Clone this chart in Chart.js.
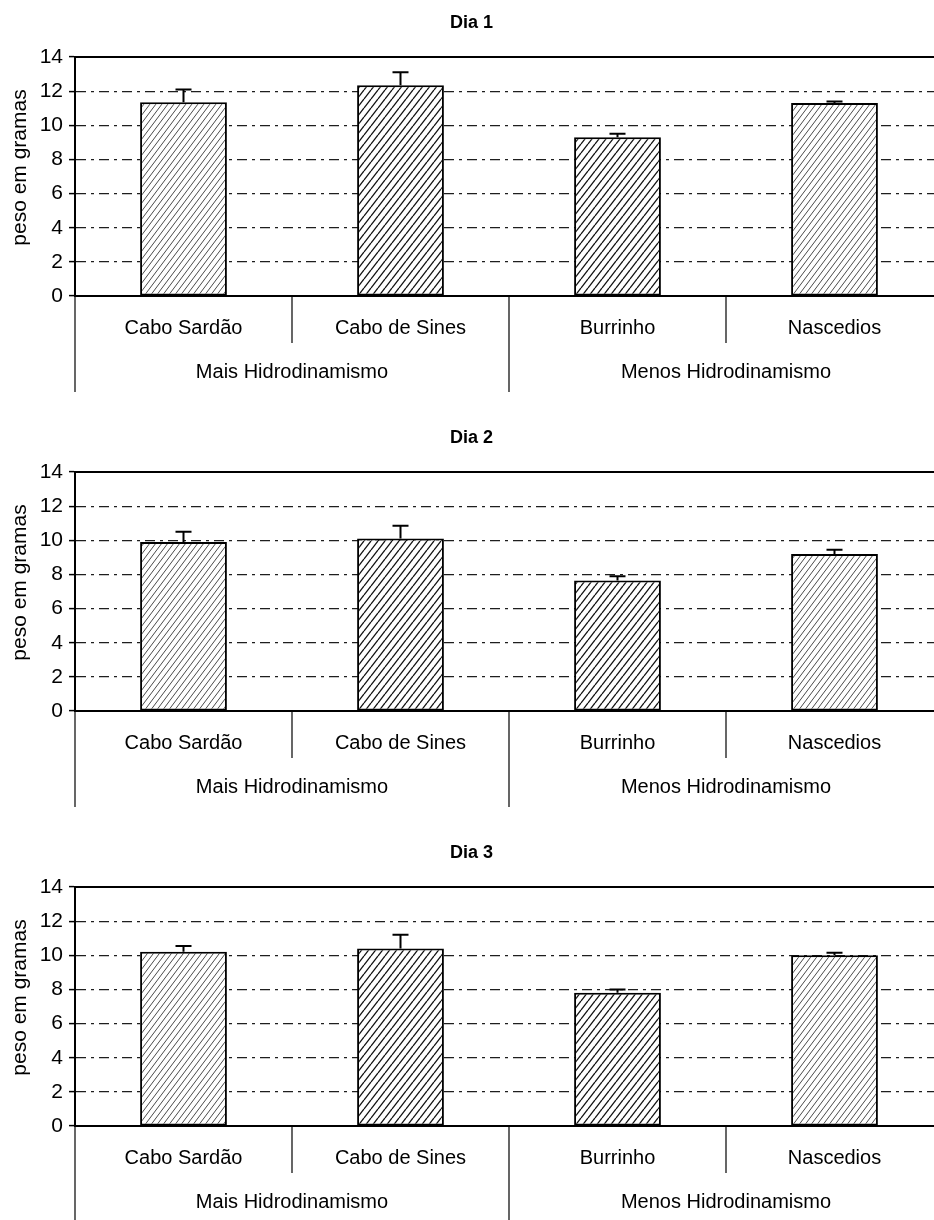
<!DOCTYPE html>
<html>
<head>
<meta charset="utf-8">
<script src="https://cdn.jsdelivr.net/npm/chart.js@4.4.1/dist/chart.umd.min.js"></script>
<style>
  html, body { margin: 0; padding: 0; background: #fff; width: 934px; height: 1220px; overflow: hidden; }
  canvas { position: absolute; left: 0; display: block; }
</style>
</head>
<body>
<canvas id="dia1" width="950" height="415" style="top:0px"></canvas>
<canvas id="dia2" width="950" height="415" style="top:415px"></canvas>
<canvas id="dia3" width="950" height="415" style="top:830px"></canvas>
<script>
// Locais de amostragem e agrupamento por hidrodinamismo
const categories = ['Cabo Sardão', 'Cabo de Sines', 'Burrinho', 'Nascedios'];
const groups = ['Mais Hidrodinamismo', 'Menos Hidrodinamismo'];
const groupSizes = [2, 2];
const dayTitles = ['Dia 1', 'Dia 2', 'Dia 3'];

// Peso médio (g) e erro (barra superior) por dia
const dia1Peso = [11.35, 12.35, 9.3, 11.3];
const dia1Erro = [0.75, 0.75, 0.2, 0.1];
const dia2Peso = [9.9, 10.1, 7.65, 9.2];
const dia2Erro = [0.6, 0.75, 0.25, 0.25];
const dia3Peso = [10.2, 10.4, 7.8, 10.0];
const dia3Erro = [0.35, 0.8, 0.2, 0.15];

const yTickValues = [0, 2, 4, 6, 8, 10, 12, 14];
const yAxisTitle = 'peso em gramas';

const FONT = '"Liberation Sans", Arial, sans-serif';

// Diagonal hatch fill for the bars
function hatch(ctx, w, h, color, lw) {
  const tile = document.createElement('canvas');
  tile.width = w; tile.height = h;
  const g = tile.getContext('2d');
  g.fillStyle = '#fff';
  g.fillRect(0, 0, w, h);
  g.strokeStyle = color;
  g.lineWidth = lw;
  for (const dx of [-w, 0, w]) {
    g.beginPath();
    g.moveTo(dx, h);
    g.lineTo(dx + w, 0);
    g.stroke();
  }
  return ctx.createPattern(tile, 'repeat');
}

// Top frame line, error bars, y title and the two-level category axis
const decorPlugin = {
  id: 'decor',
  afterDatasetsDraw(chart, args, opts) {
    const { ctx, scales: { y } } = chart;
    const peso = chart.data.datasets[0].data;
    const erro = opts.erro;
    const meta = chart.getDatasetMeta(0);
    ctx.save();
    ctx.strokeStyle = '#000';
    ctx.lineWidth = 2;
    meta.data.forEach((bar, i) => {
      const yTop = y.getPixelForValue(peso[i]);
      const yErr = y.getPixelForValue(peso[i] + erro[i]);
      ctx.beginPath();
      ctx.moveTo(bar.x, yTop);
      ctx.lineTo(bar.x, yErr);
      ctx.moveTo(bar.x - 8, yErr);
      ctx.lineTo(bar.x + 8, yErr);
      ctx.stroke();
    });
    ctx.restore();
  },
  afterDraw(chart) {
    const { ctx, chartArea: a, scales: { x, y } } = chart;
    ctx.save();
    // top frame line at the axis maximum
    const yMax = y.getPixelForValue(yTickValues[yTickValues.length - 1]);
    ctx.strokeStyle = '#000';
    ctx.lineWidth = 2;
    ctx.beginPath();
    ctx.moveTo(a.left, yMax);
    ctx.lineTo(a.right, yMax);
    ctx.stroke();

    // y axis title
    ctx.fillStyle = '#000';
    ctx.font = '21px ' + FONT;
    ctx.textAlign = 'center';
    ctx.textBaseline = 'middle';
    ctx.translate(20, 167.5);
    ctx.rotate(-Math.PI / 2);
    ctx.fillText(yAxisTitle, 0, 0);
    ctx.setTransform(1, 0, 0, 1, 0, 0);

    // category row + group row
    const half = (x.getPixelForValue(1) - x.getPixelForValue(0)) / 2;
    const base = a.bottom;
    ctx.font = '20px ' + FONT;
    ctx.textAlign = 'center';
    ctx.textBaseline = 'middle';
    categories.forEach((c, i) => ctx.fillText(c, x.getPixelForValue(i), base + 32));

    ctx.strokeStyle = '#000';
    ctx.lineWidth = 1.2;
    let start = 0;
    groupSizes.forEach((n, gi) => {
      const left = x.getPixelForValue(start) - half;
      const right = x.getPixelForValue(start + n - 1) + half;
      // group boundaries
      ctx.beginPath();
      ctx.moveTo(left, base);
      ctx.lineTo(left, base + 96);
      if (gi === groupSizes.length - 1) {
        ctx.moveTo(right, base);
        ctx.lineTo(right, base + 96);
      }
      ctx.stroke();
      // separators inside the group
      for (let k = 1; k < n; k++) {
        const sx = x.getPixelForValue(start + k) - half;
        ctx.beginPath();
        ctx.moveTo(sx, base);
        ctx.lineTo(sx, base + 47);
        ctx.stroke();
      }
      ctx.fillText(groups[gi], (left + right) / 2, base + 76.5);
      start += n;
    });
    ctx.restore();
  }
};

function makeChart(id, title, peso, erro) {
  const canvas = document.getElementById(id);
  const ctx = canvas.getContext('2d');
  const fine = hatch(ctx, 6, 8, '#4a4a4a', 1.0);
  const bold = hatch(ctx, 7, 9, '#111', 1.3);
  return new Chart(ctx, {
    type: 'bar',
    data: {
      labels: categories,
      datasets: [{
        data: peso,
        backgroundColor: [fine, bold, bold, fine],
        borderColor: '#000',
        borderWidth: 2,
        borderSkipped: false,
        barPercentage: 0.4,
        categoryPercentage: 1.0
      }]
    },
    options: {
      responsive: false,
      animation: false,
      devicePixelRatio: 1,
      layout: { padding: { left: 0, right: 7, top: 0, bottom: 0 } },
      plugins: {
        legend: { display: false },
        tooltip: { enabled: false },
        title: {
          display: true,
          text: title,
          color: '#000',
          font: { family: FONT, size: 18, weight: 'bold', lineHeight: 1.2 },
          padding: { top: 12, bottom: 23.4 }
        },
        decor: { erro: erro }
      },
      scales: {
        x: {
          ticks: { display: false },
          grid: { display: false },
          border: { display: true, color: '#000', width: 2 },
          afterFit(s) { s.height = 119; }
        },
        y: {
          min: 0,
          max: 14,
          afterBuildTicks(s) { s.ticks = yTickValues.map(v => ({ value: v })); },
          ticks: {
            color: '#000',
            padding: 6,
            font: { family: FONT, size: 21 }
          },
          grid: {
            color: c => (c.tick && (c.tick.value === 0 || c.tick.value === 14)) ? 'rgba(0,0,0,0)' : '#1e1e1e',
            lineWidth: 1.2,
            tickColor: '#000',
            tickLength: 6,
            tickWidth: 1.5
          },
          border: { display: true, color: '#000', width: 2, dash: [10, 5, 3, 5] },
          afterFit(s) { s.width = 75; }
        }
      }
    },
    plugins: [decorPlugin]
  });
}

makeChart('dia1', dayTitles[0], dia1Peso, dia1Erro);
makeChart('dia2', dayTitles[1], dia2Peso, dia2Erro);
makeChart('dia3', dayTitles[2], dia3Peso, dia3Erro);
</script>
</body>
</html>
